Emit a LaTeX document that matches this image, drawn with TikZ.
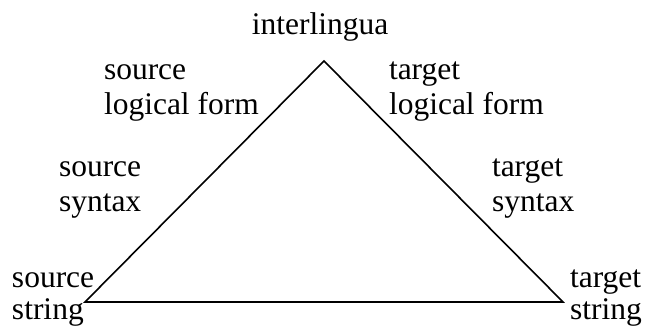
\documentclass[tikz,border=0pt]{standalone}
\usepackage{fontspec}
\setmainfont{Liberation Serif}
\begin{document}
\begin{tikzpicture}[x=1pt,y=1pt,
  lbl/.style={inner sep=0pt, outer sep=0pt, anchor=base west, font=\fontsize{31.5}{37}\selectfont},
  edge/.style={line width=1.6pt, line join=miter}]
\useasboundingbox (0,0) rectangle (645,329);
\coordinate (top) at (324,268);
\coordinate (L) at (85,27);
\coordinate (R) at (563,27);
\draw[edge] (top) -- (L) -- (R) -- cycle;
\node[lbl, anchor=base] (inter) at (320,294) {interlingua};
\node[lbl] (slf1) at (104,249) {source};
\node[lbl] (slf2) at (104,214) {logical form};
\node[lbl] (tlf1) at (389,249) {target};
\node[lbl] (tlf2) at (389,214) {logical form};
\node[lbl] (ss1) at (59,152) {source};
\node[lbl] (ss2) at (59,117) {syntax};
\node[lbl] (ts1) at (492,152) {target};
\node[lbl] (ts2) at (492,117) {syntax};
\node[lbl] (sst1) at (12,41) {source};
\node[lbl] (sst2) at (12,9) {string};
\node[lbl] (tst1) at (570,41) {target};
\node[lbl] (tst2) at (570,9) {string};
\end{tikzpicture}
\end{document}
